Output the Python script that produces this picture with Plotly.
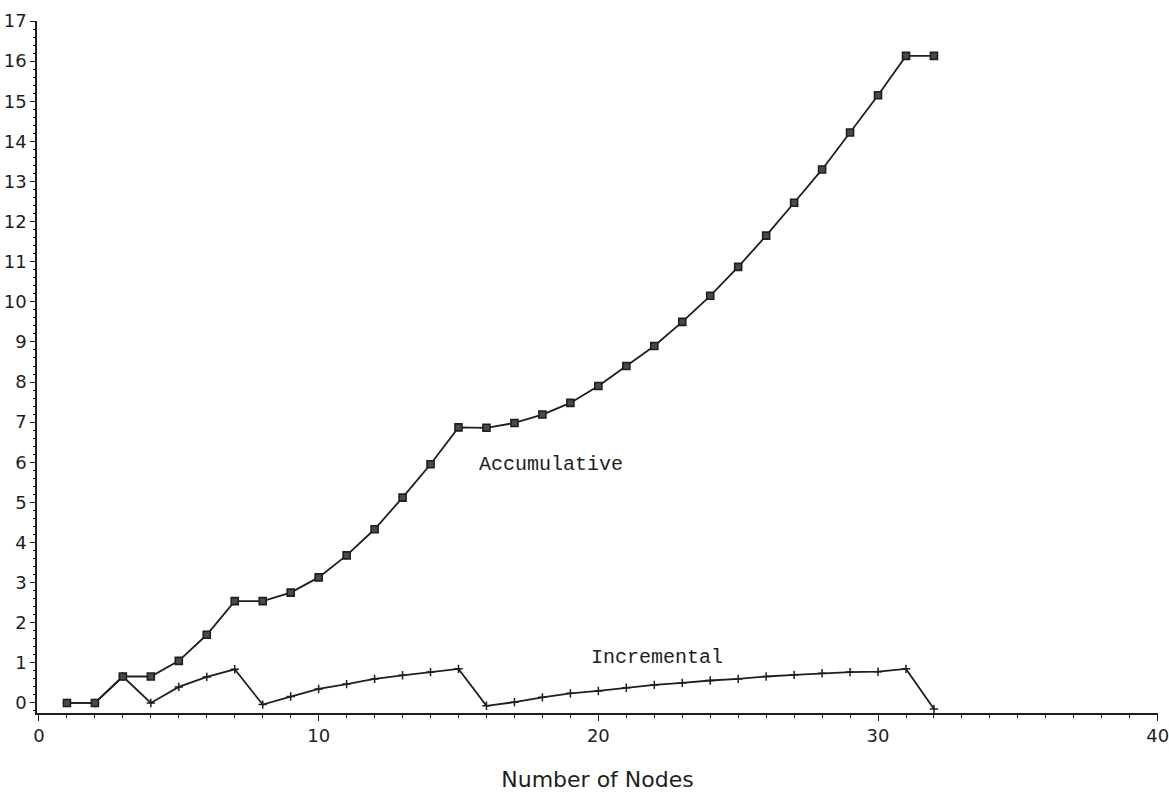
import plotly.graph_objects as go

# Number of nodes (x) and the two timing series
nodes = list(range(1, 33))

accumulative = [0.0, 0.0, 0.66, 0.66, 1.05, 1.7, 2.54, 2.54, 2.75, 3.13,
                3.68, 4.33, 5.12, 5.95, 6.87, 6.86, 6.98, 7.19, 7.48, 7.9,
                8.4, 8.9, 9.5, 10.15, 10.87, 11.65, 12.47, 13.3, 14.22, 15.15,
                16.13, 16.13]

incremental = [0.0, 0.0, 0.66, 0.0, 0.4, 0.65, 0.84, -0.04, 0.16, 0.35,
               0.47, 0.6, 0.69, 0.77, 0.85, -0.07, 0.02, 0.14, 0.24, 0.3,
               0.38, 0.45, 0.5, 0.56, 0.6, 0.66, 0.7, 0.74, 0.77, 0.78,
               0.85, -0.15]

x_ticks = [0, 10, 20, 30, 40]
y_ticks = list(range(0, 18))

ink = "#1e1e1e"

fig = go.Figure()

fig.add_trace(go.Scatter(
    x=nodes, y=incremental, mode="lines+markers",
    line=dict(color=ink, width=1.8),
    marker=dict(symbol="cross-thin", size=6, line=dict(color=ink, width=1.5)),
    showlegend=False,
))

fig.add_trace(go.Scatter(
    x=nodes, y=accumulative, mode="lines+markers",
    line=dict(color=ink, width=1.8),
    marker=dict(symbol="square", size=7, color="#4a4a4a",
                line=dict(color=ink, width=1.6)),
    showlegend=False,
))

# Series captions
caption_font = dict(family="Liberation Mono", size=20, color=ink)
fig.add_annotation(x=15.66, y=5.95, text="Accumulative", showarrow=False,
                   xanchor="left", yanchor="middle", font=caption_font)
fig.add_annotation(x=19.66, y=1.13, text="Incremental", showarrow=False,
                   xanchor="left", yanchor="middle", font=caption_font)

tick_font = dict(family="DejaVu Sans", size=18, color=ink)

fig.update_xaxes(
    range=[-0.07, 40.01], tickvals=x_ticks, ticktext=[str(v) for v in x_ticks],
    automargin=False, ticklabeloverflow="allow",
    showgrid=False, zeroline=False,
    showline=True, linecolor=ink, linewidth=1.6,
    ticks="outside", ticklen=6, tickwidth=1.4, tickcolor=ink,
    minor=dict(dtick=1, ticks="outside", ticklen=3, tickwidth=1.2, tickcolor=ink),
    tickfont=tick_font,
    title=dict(text="Number of Nodes", standoff=26,
               font=dict(family="DejaVu Sans", size=22, color=ink)),
)

fig.update_yaxes(
    range=[-0.25, 17], tickvals=y_ticks, ticktext=[str(v) for v in y_ticks],
    automargin=False, ticklabeloverflow="allow",
    showgrid=False, zeroline=False,
    showline=True, linecolor=ink, linewidth=1.6,
    ticks="outside", ticklen=5, tickwidth=1.4, tickcolor=ink,
    minor=dict(dtick=0.2, ticks="outside", ticklen=2, tickwidth=1, tickcolor=ink),
    tickfont=tick_font,
)

fig.update_layout(
    width=1169, height=794,
    margin=dict(l=37, r=11, t=21, b=81),
    paper_bgcolor="white", plot_bgcolor="white",
)

fig.write_html("out.html")
